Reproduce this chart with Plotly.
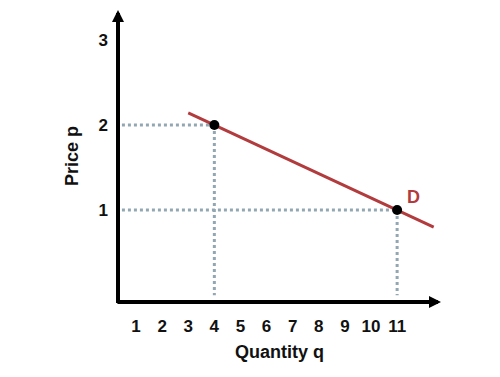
import plotly.graph_objects as go

# Data
x_ticks = [1, 2, 3, 4, 5, 6, 7, 8, 9, 10, 11]
y_ticks = [1, 2, 3]
demand_q = [3.0, 12.4]
demand_p = [2.143, 0.8]
points_q = [4, 11]
points_p = [2, 1]
label_text = "D"

X0, X1 = 0.31, 12.68
Y0, Y1 = -0.082, 3.353
RED = "#b23b3d"
DOT = "#93a7b3"
FONT = "Liberation Sans, Arial, sans-serif"

fig = go.Figure()

# guide dotted lines
for q, p in zip(points_q, points_p):
    fig.add_trace(go.Scatter(x=[X0 + 0.15, q], y=[p, p], mode="lines",
                             line=dict(color=DOT, width=3, dash="dot"),
                             hoverinfo="skip", showlegend=False))
    fig.add_trace(go.Scatter(x=[q, q], y=[p, Y0 + 0.08], mode="lines",
                             line=dict(color=DOT, width=3, dash="dot"),
                             hoverinfo="skip", showlegend=False))

# demand line
fig.add_trace(go.Scatter(x=demand_q, y=demand_p, mode="lines",
                         line=dict(color=RED, width=3),
                         hoverinfo="skip", showlegend=False))
# points
fig.add_trace(go.Scatter(x=points_q, y=points_p, mode="markers",
                         marker=dict(color="black", size=10),
                         hoverinfo="skip", showlegend=False))

# axes with arrows
fig.add_annotation(x=X0, y=Y1, ax=X0, ay=Y0 - 0.03, xref="x", yref="y",
                   axref="x", ayref="y", text="", showarrow=True,
                   arrowhead=2, arrowsize=0.6, arrowwidth=4, arrowcolor="black")
fig.add_annotation(x=X1, y=Y0, ax=X0 - 0.08, ay=Y0, xref="x", yref="y",
                   axref="x", ayref="y", text="", showarrow=True,
                   arrowhead=2, arrowsize=0.6, arrowwidth=4, arrowcolor="black")

# D label
fig.add_annotation(x=points_q[1] + 0.62, y=points_p[1] + 0.15, text=f"<b>{label_text}</b>",
                   showarrow=False, font=dict(family=FONT, size=18, color=RED))

fig.update_layout(
    width=500, height=377,
    margin=dict(l=118, r=59, t=10, b=75),
    paper_bgcolor="white", plot_bgcolor="white",
    font=dict(family=FONT, size=17, color="#111111"),
    xaxis=dict(range=[X0, X1], tickvals=x_ticks, ticktext=[f"<b>{t}</b>" for t in x_ticks],
               showgrid=False, zeroline=False, showline=False, ticks="",
               ticklabelstandoff=12,
               title=dict(text="<b>Quantity q</b>", standoff=10, font=dict(size=18))),
    yaxis=dict(range=[Y0, Y1], tickvals=y_ticks, ticktext=[f"<b>{t}</b>" for t in y_ticks],
               showgrid=False, zeroline=False, showline=False, ticks="",
               ticklabelstandoff=9,
               title=dict(text="<b>Price p</b>", standoff=15, font=dict(size=18))),
)

fig.write_html("out.html")
